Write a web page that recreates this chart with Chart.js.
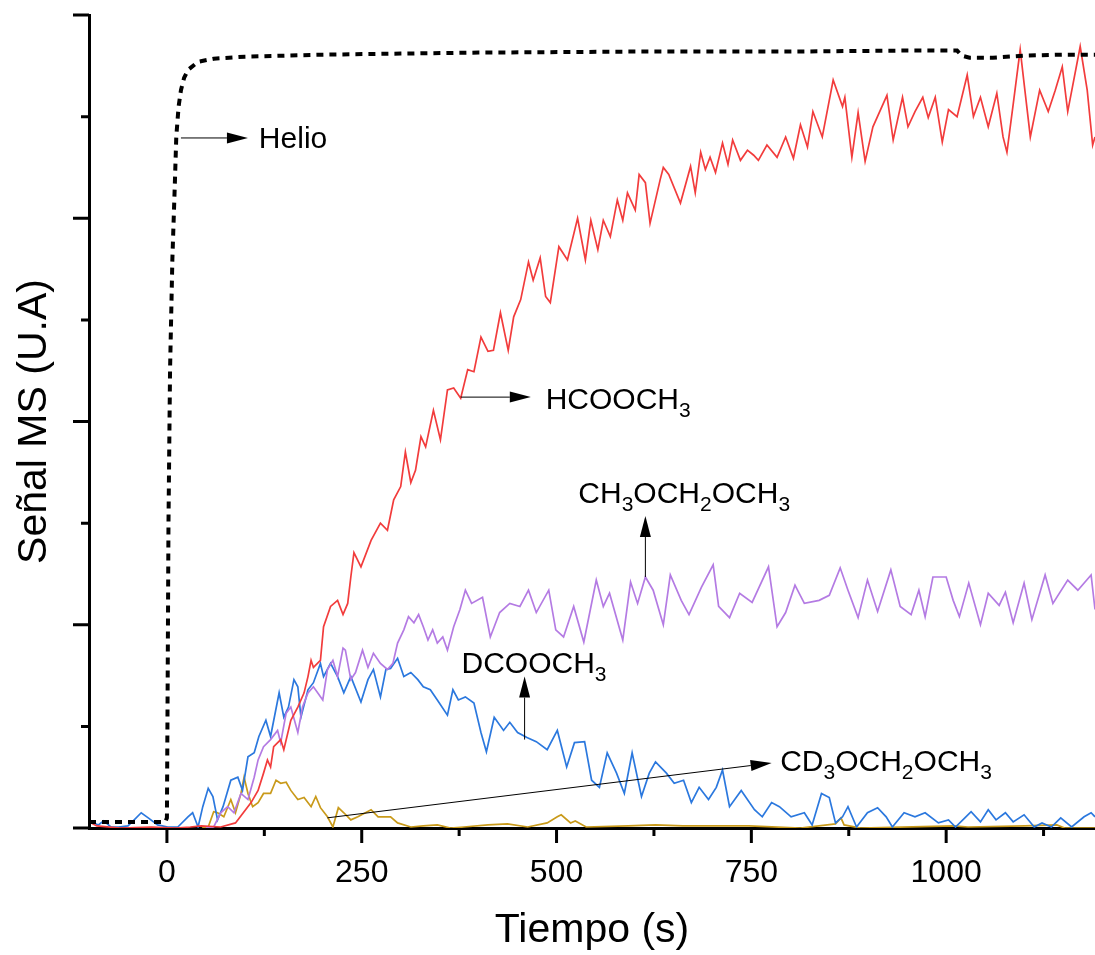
<!DOCTYPE html>
<html>
<head>
<meta charset="utf-8">
<script src="https://cdn.jsdelivr.net/npm/chart.js@4.4.1/dist/chart.umd.min.js"></script>
<style>
  html, body { margin: 0; padding: 0; background: #fff; }
</style>
</head>
<body>
<canvas id="ms" width="1095" height="955"></canvas>
<script>
// MS signals during the pulse, [time (s), signal (a.u.)]
const helio = [
  [-100, 0.06], [-60, 0.06], [-20, 0.06], [-2, 0.06], [0, 0.10], [1, 1.5], [2, 3.0], [4, 4.5],
  [7, 5.6], [10, 6.3], [12, 6.8], [15, 7.1], [18, 7.26], [22, 7.38], [27, 7.46], [40, 7.54],
  [60, 7.57], [100, 7.59], [200, 7.61], [300, 7.62], [400, 7.63], [600, 7.64], [800, 7.64],
  [950, 7.65], [1014, 7.65], [1020, 7.60], [1030, 7.58], [1060, 7.58], [1100, 7.60],
  [1150, 7.61], [1191, 7.61]
];

const hcooch3 = [
  [-100, 0.06], [-90, 0.02], [-60, 0.0], [-20, 0.01], [10, 0.0], [30, 0.01], [44, 0.02],
  [69, 0.01], [88, 0.05], [108, 0.25], [117, 0.37], [124, 0.54], [129, 0.67], [133, 0.60],
  [137, 0.80], [146, 0.87], [150, 0.77], [159, 1.06], [168, 1.19], [176, 1.33], [181, 1.49],
  [185, 1.65], [188, 1.58], [197, 1.65], [201, 1.98], [210, 2.18], [219, 2.24], [226, 2.10],
  [232, 2.21], [236, 2.47], [240, 2.71], [249, 2.57], [262, 2.83], [274, 3.00], [283, 2.93],
  [291, 3.23], [300, 3.36], [306, 3.70], [313, 3.40], [319, 3.52], [326, 3.85], [332, 3.75],
  [342, 4.11], [351, 3.82], [360, 4.31], [368, 4.33], [377, 4.23], [386, 4.51], [394, 4.49],
  [403, 4.83], [412, 4.69], [419, 4.70], [428, 5.07], [438, 4.70], [445, 5.03], [454, 5.20],
  [464, 5.57], [470, 5.39], [479, 5.61], [486, 5.23], [492, 5.17], [503, 5.72], [514, 5.59],
  [527, 6.00], [537, 5.59], [544, 5.98], [553, 5.69], [560, 5.98], [569, 5.82], [578, 6.18],
  [585, 5.98], [591, 6.25], [601, 6.08], [606, 6.43], [614, 6.35], [620, 5.95], [633, 6.38],
  [637, 6.50], [644, 6.43], [659, 6.15], [672, 6.51], [678, 6.25], [685, 6.65], [691, 6.48],
  [697, 6.60], [704, 6.45], [713, 6.74], [720, 6.53], [726, 6.77], [736, 6.57], [745, 6.67],
  [753, 6.62], [759, 6.57], [770, 6.72], [783, 6.60], [794, 6.80], [804, 6.59], [813, 6.92],
  [822, 6.70], [829, 7.05], [841, 6.80], [855, 7.36], [867, 7.10], [870, 7.19], [879, 6.60],
  [887, 7.04], [896, 6.56], [906, 6.90], [924, 7.21], [932, 6.77], [944, 7.19], [951, 6.90],
  [960, 7.05], [970, 7.19], [977, 6.99], [986, 7.19], [995, 6.75], [1003, 7.07], [1014, 7.00],
  [1027, 7.41], [1035, 7.00], [1044, 7.19], [1054, 6.90], [1065, 7.23], [1073, 6.80],
  [1078, 6.65], [1086, 7.12], [1095, 7.66], [1101, 7.26], [1108, 6.80], [1120, 7.26],
  [1131, 7.05], [1140, 7.26], [1149, 7.49], [1156, 7.05], [1172, 7.69], [1181, 7.26],
  [1188, 6.72], [1191, 6.80]
];

const ch3och2och3 = [
  [50, 0.0], [60, 0.01], [69, 0.15], [78, 0.21], [86, 0.15], [95, 0.34], [104, 0.28], [112, 0.50],
  [117, 0.67], [124, 0.80], [133, 0.87], [142, 0.96], [146, 0.84], [153, 1.13], [159, 1.19],
  [168, 0.94], [174, 1.19], [181, 1.33], [188, 1.39], [200, 1.26], [206, 1.56], [213, 1.65],
  [219, 1.49], [226, 1.77], [229, 1.75], [236, 1.46], [242, 1.53], [251, 1.75], [258, 1.58],
  [265, 1.72], [274, 1.62], [283, 1.56], [290, 1.62], [296, 1.82], [304, 1.95], [310, 2.08],
  [317, 2.02], [323, 2.10], [329, 1.98], [335, 1.85], [341, 1.95], [347, 1.82], [354, 1.88],
  [360, 1.75], [368, 1.98], [376, 2.15], [383, 2.34], [391, 2.21], [405, 2.27], [415, 1.88],
  [427, 2.12], [440, 2.21], [453, 2.18], [464, 2.34], [474, 2.12], [490, 2.34], [499, 1.95],
  [509, 1.88], [522, 2.18], [535, 1.83], [551, 2.44], [560, 2.18], [568, 2.31], [585, 1.85],
  [595, 2.42], [604, 2.21], [614, 2.47], [624, 2.34], [637, 2.00], [646, 2.49], [660, 2.24],
  [670, 2.10], [686, 2.37], [701, 2.59], [708, 2.18], [722, 2.07], [735, 2.31], [751, 2.22],
  [772, 2.57], [783, 1.98], [794, 2.12], [806, 2.39], [818, 2.21], [837, 2.24], [850, 2.29],
  [864, 2.56], [874, 2.34], [887, 2.07], [899, 2.44], [912, 2.13], [929, 2.54], [941, 2.18],
  [955, 2.10], [965, 2.34], [973, 2.08], [983, 2.47], [1000, 2.47], [1009, 2.24], [1017, 2.08],
  [1029, 2.41], [1044, 2.00], [1054, 2.31], [1068, 2.19], [1076, 2.32], [1086, 2.02],
  [1100, 2.41], [1110, 2.05], [1127, 2.49], [1137, 2.21], [1156, 2.44], [1169, 2.34],
  [1186, 2.49], [1191, 2.15]
];

const dcooch3 = [
  [-100, 0.05], [-97, 0.06], [-88, 0.03], [-81, 0.07], [-72, 0.01], [-62, 0.01], [-50, 0.02],
  [-42, 0.08], [-33, 0.15], [-24, 0.10], [-12, 0.03], [1, 0.01], [14, 0.01], [27, 0.11],
  [33, 0.15], [40, 0.01], [46, 0.21], [53, 0.39], [59, 0.31], [65, 0.08], [72, 0.21], [82, 0.47],
  [91, 0.50], [97, 0.37], [104, 0.70], [112, 0.74], [118, 0.90], [127, 1.06], [133, 0.90],
  [144, 1.33], [150, 1.09], [156, 1.19], [163, 1.46], [168, 1.39], [172, 1.09], [181, 1.36],
  [188, 1.43], [197, 1.62], [201, 1.49], [210, 1.62], [219, 1.49], [227, 1.33], [236, 1.49],
  [249, 1.24], [258, 1.46], [265, 1.56], [274, 1.29], [281, 1.56], [287, 1.57], [296, 1.67],
  [304, 1.49], [313, 1.53], [322, 1.46], [329, 1.39], [338, 1.36], [347, 1.26], [360, 1.11],
  [367, 1.36], [374, 1.26], [383, 1.29], [394, 1.23], [403, 0.94], [410, 0.75], [420, 1.09],
  [432, 0.96], [440, 1.04], [450, 0.94], [462, 0.89], [474, 0.85], [488, 0.77], [501, 0.96],
  [513, 0.60], [523, 0.84], [536, 0.85], [545, 0.47], [555, 0.40], [565, 0.74], [577, 0.54],
  [587, 0.34], [597, 0.74], [609, 0.31], [619, 0.54], [627, 0.65], [641, 0.54], [651, 0.44],
  [663, 0.47], [673, 0.25], [683, 0.40], [695, 0.28], [705, 0.40], [713, 0.57], [722, 0.21],
  [737, 0.37], [754, 0.18], [764, 0.11], [776, 0.25], [786, 0.21], [801, 0.11], [818, 0.15],
  [828, 0.03], [840, 0.34], [850, 0.30], [858, 0.05], [867, 0.11], [874, 0.21], [885, 0.01],
  [899, 0.15], [912, 0.20], [923, 0.11], [931, 0.01], [946, 0.15], [960, 0.11], [973, 0.15],
  [990, 0.05], [1003, 0.08], [1012, 0.01], [1024, 0.10], [1032, 0.16], [1044, 0.06],
  [1054, 0.18], [1064, 0.08], [1076, 0.15], [1086, 0.06], [1100, 0.13], [1113, 0.01],
  [1123, 0.05], [1135, 0.01], [1147, 0.10], [1161, 0.01], [1177, 0.11], [1186, 0.15],
  [1191, 0.11]
];

const cd3och2och3 = [
  [45, 0.0], [53, 0.01], [60, 0.16], [65, 0.15], [73, 0.11], [82, 0.28], [88, 0.15], [95, 0.34],
  [99, 0.50], [104, 0.34], [110, 0.21], [117, 0.25], [124, 0.34], [133, 0.34], [140, 0.47],
  [146, 0.44], [153, 0.45], [159, 0.37], [168, 0.28], [176, 0.30], [185, 0.21], [191, 0.31],
  [197, 0.20], [206, 0.11], [213, 0.01], [220, 0.20], [227, 0.15], [236, 0.08], [245, 0.11],
  [262, 0.18], [271, 0.11], [287, 0.11], [296, 0.05], [313, 0.01], [329, 0.02], [347, 0.03],
  [364, 0.0], [381, 0.01], [412, 0.03], [437, 0.04], [463, 0.01], [488, 0.05], [501, 0.11],
  [506, 0.13], [518, 0.05], [524, 0.07], [538, 0.01], [592, 0.02], [627, 0.03], [662, 0.02],
  [724, 0.02], [747, 0.02], [813, 0.0], [858, 0.04], [865, 0.10], [869, 0.03], [890, 0.0],
  [1010, 0.02], [1028, 0.01], [1101, 0.02], [1142, 0.03], [1152, 0.0], [1191, 0.0]
];

const xMajor = [0, 250, 500, 750, 1000];
const xMinor = [125, 375, 625, 875, 1125];
const yMajor = [0, 2, 4, 6, 8];
const yMinor = [1, 3, 5, 7];

// labels: text ("_" marks a subscript digit), baseline start, arrow tail and tip
const notes = [
  { text: 'Helio', at: [118, 6.69], from: [18, 6.79], to: [104, 6.79] },
  { text: 'HCOOCH_3', at: [486, 4.12], from: [377, 4.24], to: [467, 4.24] },
  { text: 'CH_3OCH_2OCH_3', at: [528, 3.20], from: [614, 2.47], to: [614, 3.07] },
  { text: 'DCOOCH_3', at: [378, 1.53], from: [459, 0.87], to: [459, 1.49] },
  { text: 'CD_3OCH_2OCH_3', at: [787, 0.56], from: [206, 0.10], to: [776, 0.64] }
];

const FONT = '"Liberation Sans", Arial, sans-serif';

const toXY = (arr) => arr.map(p => ({ x: p[0], y: p[1] }));

function line(label, arr, color, extra) {
  return Object.assign({
    label: label,
    data: toXY(arr),
    borderColor: color,
    borderWidth: 1.7,
    pointRadius: 0,
    tension: 0,
    fill: false
  }, extra || {});
}

function drawArrow(ctx, x1, y1, x2, y2) {
  const a = Math.atan2(y2 - y1, x2 - x1);
  const len = 21, half = 5.5;
  const bx = x2 - Math.cos(a) * len, by = y2 - Math.sin(a) * len;
  ctx.beginPath();
  ctx.moveTo(x1, y1);
  ctx.lineTo(bx, by);
  ctx.stroke();
  ctx.beginPath();
  ctx.moveTo(x2, y2);
  ctx.lineTo(bx - Math.sin(a) * half, by + Math.cos(a) * half);
  ctx.lineTo(bx + Math.sin(a) * half, by - Math.cos(a) * half);
  ctx.closePath();
  ctx.fill();
}

function drawFormula(ctx, text, x, y) {
  // split into normal runs and subscript digits
  const runs = [];
  for (let i = 0; i < text.length; i++) {
    if (text[i] === '_') { runs.push([text[i + 1], true]); i++; }
    else if (runs.length && !runs[runs.length - 1][1]) runs[runs.length - 1][0] += text[i];
    else runs.push([text[i], false]);
  }
  let cx = x;
  runs.forEach(([s, sub]) => {
    ctx.font = (sub ? '21px ' : '30px ') + FONT;
    ctx.fillText(s, cx, sub ? y + 8 : y);
    cx += ctx.measureText(s).width;
  });
}

const decorations = {
  id: 'decorations',
  afterDraw(chart) {
    const { ctx, chartArea: area, scales: { x, y } } = chart;
    ctx.save();
    // outward ticks, long for major, short for minor
    ctx.strokeStyle = '#000';
    ctx.lineWidth = 3;
    ctx.beginPath();
    xMajor.forEach(v => { const p = x.getPixelForValue(v); ctx.moveTo(p, area.bottom); ctx.lineTo(p, area.bottom + 15); });
    xMinor.forEach(v => { const p = x.getPixelForValue(v); ctx.moveTo(p, area.bottom); ctx.lineTo(p, area.bottom + 8); });
    yMajor.forEach(v => { const p = y.getPixelForValue(v); ctx.moveTo(area.left, p); ctx.lineTo(area.left - 16, p); });
    yMinor.forEach(v => { const p = y.getPixelForValue(v); ctx.moveTo(area.left, p); ctx.lineTo(area.left - 8, p); });
    ctx.stroke();

    // species labels with arrows
    ctx.lineWidth = 1;
    ctx.fillStyle = '#000';
    ctx.textBaseline = 'alphabetic';
    ctx.textAlign = 'left';
    notes.forEach(n => {
      drawArrow(ctx,
        x.getPixelForValue(n.from[0]), y.getPixelForValue(n.from[1]),
        x.getPixelForValue(n.to[0]), y.getPixelForValue(n.to[1]));
      drawFormula(ctx, n.text, x.getPixelForValue(n.at[0]), y.getPixelForValue(n.at[1]));
    });
    ctx.restore();
  }
};

new Chart(document.getElementById('ms'), {
  type: 'line',
  data: {
    datasets: [
      line('Helio', helio, '#000', { borderWidth: 4, borderDash: [7, 6] }),
      line('HCOOCH3', hcooch3, '#f23c3c'),
      line('CH3OCH2OCH3', ch3och2och3, '#b47be3'),
      line('DCOOCH3', dcooch3, '#2b78de'),
      line('CD3OCH2OCH3', cd3och2och3, '#c99a1a')
    ]
  },
  options: {
    responsive: false,
    animation: false,
    layout: { padding: { top: 15, right: 0, left: 0, bottom: 0 } },
    plugins: { legend: { display: false }, tooltip: { enabled: false } },
    scales: {
      x: {
        type: 'linear',
        min: -100,
        max: 1191,
        afterBuildTicks: (s) => { s.ticks = xMajor.map(v => ({ value: v })); },
        afterFit: (s) => { s.height = 127; },
        grid: { display: false, drawTicks: false },
        border: { display: true, color: '#000', width: 3 },
        ticks: {
          color: '#000',
          padding: 26,
          maxRotation: 0,
          autoSkip: false,
          font: { family: FONT, size: 32 },
          callback: (v) => String(v)
        },
        title: {
          display: true,
          text: 'Tiempo (s)',
          color: '#000',
          font: { family: FONT, size: 41, lineHeight: 1 },
          padding: { top: 0, bottom: 4 }
        }
      },
      y: {
        min: 0,
        max: 8,
        afterBuildTicks: (s) => { s.ticks = yMajor.map(v => ({ value: v })); },
        afterFit: (s) => { s.width = 89; },
        grid: { display: false, drawTicks: false },
        border: { display: true, color: '#000', width: 3 },
        ticks: { display: false },
        title: {
          display: true,
          text: 'Señal MS (U.A)',
          color: '#000',
          font: { family: FONT, size: 41, lineHeight: 1 },
          padding: { top: 14, bottom: 0 }
        }
      }
    }
  },
  plugins: [decorations]
});
</script>
</body>
</html>
